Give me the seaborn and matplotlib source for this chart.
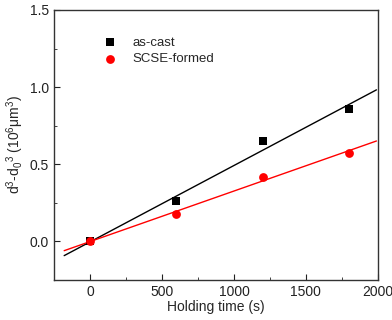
import numpy as np
import pandas as pd
import matplotlib
matplotlib.use('Agg')
import matplotlib.pyplot as plt
import seaborn as sns
from matplotlib.ticker import MultipleLocator

# holding time (s) and d^3 - d0^3 (10^6 um^3)
time_s = [0, 600, 1200, 1800]
as_cast = [0.0, 0.26, 0.65, 0.86]
scse_formed = [0.0, 0.18, 0.42, 0.575]

fit_range = [-180, 1990]

sns.set_style('ticks')
plt.rcParams['font.family'] = ['Liberation Sans', 'DejaVu Sans']
plt.rcParams['mathtext.fontset'] = 'custom'
plt.rcParams['mathtext.rm'] = 'Liberation Sans'
plt.rcParams['mathtext.it'] = 'Liberation Sans'

fig = plt.figure(figsize=(3.92, 3.2), dpi=100)
ax = fig.add_axes([0.138, 0.125, 0.826, 0.844])

df = pd.DataFrame({'time': time_s, 'as-cast': as_cast, 'SCSE-formed': scse_formed})

series = [('as-cast', 'black', 's'), ('SCSE-formed', 'red', 'o')]
for name, color, marker in series:
    slope, icpt = np.polyfit(df['time'], df[name], 1)
    xs = np.array(fit_range)
    sns.lineplot(x=xs, y=slope * xs + icpt, color=color, lw=1.0, ax=ax, legend=False)
for name, color, marker in series:
    sns.scatterplot(data=df, x='time', y=name, color=color, marker=marker, s=40,
                    edgecolor=color, linewidth=0, ax=ax, label=name, zorder=3)

ax.set_xlim(-250, 2000)
ax.set_ylim(-0.25, 1.5)
ax.xaxis.set_major_locator(MultipleLocator(500))
ax.xaxis.set_minor_locator(MultipleLocator(250))
ax.yaxis.set_major_locator(MultipleLocator(0.5))
ax.yaxis.set_minor_locator(MultipleLocator(0.25))
ax.yaxis.set_major_formatter(matplotlib.ticker.FormatStrFormatter('%.1f'))
ax.tick_params(which='both', direction='in', labelsize=10, colors='#222222')
ax.tick_params(which='major', length=4)
ax.tick_params(which='minor', length=2.5)
for sp in ax.spines.values():
    sp.set_color('#333333')
    sp.set_linewidth(1.0)

ax.set_xlabel('Holding time (s)', fontsize=10, labelpad=1)
ax.set_ylabel(r'd$^3$-d$_0$$^3$ (10$^6$$\mu$m$^3$)', fontsize=10, labelpad=3)

ax.legend(loc='upper left', bbox_to_anchor=(0.115, 0.945), frameon=False, fontsize=9.5,
          handletextpad=1.2, labelspacing=0.3, handlelength=1.0)

fig.savefig('out.png', dpi=100)
